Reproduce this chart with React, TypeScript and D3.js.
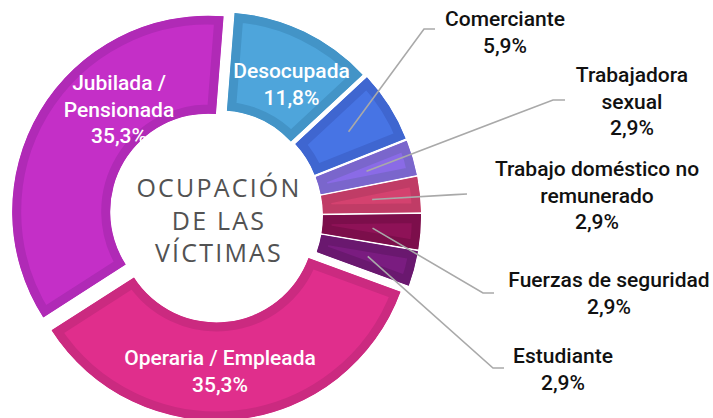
import React from 'react';
import * as d3 from 'd3';

// ---- data ----
const categories = [
  'Desocupada',
  'Comerciante',
  'Trabajadora sexual',
  'Trabajo doméstico no remunerado',
  'Fuerzas de seguridad',
  'Estudiante',
  'Operaria / Empleada',
  'Jubilada / Pensionada',
];
const values = [11.8, 5.9, 2.9, 2.9, 2.9, 2.9, 35.3, 35.3];
const percentLabels = ['11,8%', '5,9%', '2,9%', '2,9%', '2,9%', '2,9%', '35,3%', '35,3%'];
const labelLines = [
  ['Desocupada'],
  ['Comerciante'],
  ['Trabajadora', 'sexual'],
  ['Trabajo doméstico no', 'remunerado'],
  ['Fuerzas de seguridad'],
  ['Estudiante'],
  ['Operaria / Empleada'],
  ['Jubilada /', 'Pensionada'],
];
const centerTitle = ['OCUPACIÓN', 'DE LAS', 'VÍCTIMAS'];

// ---- styles ----
const fillColors = ['#4ea5db', '#4774e4', '#8a6be6', '#d4426f', '#8e1257', '#7a1c80', '#e02e8c', '#c42fc7'];
const borderColors = ['#4394c7', '#3f66d0', '#7a66cc', '#c03c66', '#7c0e4b', '#6a186f', '#cb2a80', '#b02ab6'];

// ---- layout ----
const W = 713;
const H = 418;
const CX = 215.5;
const CY = 216;
const R_OUT = 196;
const R_IN = 98;
const START = (4.5 * Math.PI) / 180;
const offsets = [8.5, 9.5, 9.5, 9.5, 9.5, 9.5, 8.5, 8.5];
const inside = [true, false, false, false, false, false, true, true];
// label layout: text centre x, first baseline y, leader bend and end
const labelLayout = [
  { x: 291.5, y: 78 },
  { x: 505, y: 26, bend: [424, 29], end: [435, 29] },
  { x: 632, y: 82, bend: [553, 100], end: [565, 100] },
  { x: 597, y: 176, bend: [455, 194.6], end: [467, 194] },
  { x: 609, y: 287, bend: [483, 293], end: [494, 293] },
  { x: 563, y: 363, bend: [493, 368], end: [504, 368] },
  { x: 220, y: 365 },
  { x: 119, y: 90 },
];

export default function App() {
  const pie = d3
    .pie<number>()
    .sort(null)
    .value((d) => d)
    .startAngle(START)
    .endAngle(START + 2 * Math.PI);
  const arcs = pie(values);
  const arcGen = d3.arc<d3.PieArcDatum<number>>().innerRadius(R_IN).outerRadius(R_OUT);

  return (
    <svg width={W} height={H} style={{ position: 'absolute', left: 0, top: 0 }} viewBox={`0 0 ${W} ${H}`}>
      <rect width={W} height={H} fill="#ffffff" />
      <defs>
        {arcs.map((a, i) => (
          <clipPath id={`clip${i}`} key={i}>
            <path d={arcGen(a) || ''} />
          </clipPath>
        ))}
      </defs>
      {arcs.map((a, i) => {
        const mid = (a.startAngle + a.endAngle) / 2;
        const dx = Math.sin(mid) * offsets[i];
        const dy = -Math.cos(mid) * offsets[i];
        return (
          <g key={i} transform={`translate(${CX + dx},${CY + dy})`}>
            <path
              d={arcGen(a) || ''}
              fill={fillColors[i]}
              stroke={borderColors[i]}
              strokeWidth={18}
              strokeLinejoin="miter"
              clipPath={`url(#clip${i})`}
            />
          </g>
        );
      })}
      {/* leader lines */}
      {arcs.map((a, i) => {
        if (inside[i]) return null;
        const mid = (a.startAngle + a.endAngle) / 2;
        const r = 148 + offsets[i];
        const sx = CX + Math.sin(mid) * r;
        const sy = CY - Math.cos(mid) * r;
        const L = labelLayout[i] as any;
        const line = d3.line()([[sx, sy], L.bend, L.end] as [number, number][]);
        return <path key={`l${i}`} d={line || ''} fill="none" stroke="#a9a9a9" strokeWidth={1.6} />;
      })}
      {/* labels */}
      {arcs.map((a, i) => {
        const L = labelLayout[i];
        const lines = [...labelLines[i], percentLabels[i]];
        return (
          <text
            key={`t${i}`}
            x={L.x}
            y={L.y}
            textAnchor="middle"
            fontFamily="Roboto, 'Noto Sans', sans-serif"
            fontWeight={500}
            fontSize={21}
            fill={inside[i] ? '#ffffff' : '#111111'}
          >
            {lines.map((s, k) => (
              <tspan key={k} x={L.x} dy={k === 0 ? 0 : 26.5}>
                {s}
              </tspan>
            ))}
          </text>
        );
      })}
      <text
        x={219}
        y={197}
        textAnchor="middle"
        fontFamily="'Open Sans', 'Noto Sans', sans-serif"
        fontWeight={500}
        fontSize={25}
        letterSpacing={2.2}
        fill="#525252"
      >
        {centerTitle.map((s, k) => (
          <tspan key={k} x={219} dy={k === 0 ? 0 : 32.5}>
            {s}
          </tspan>
        ))}
      </text>
    </svg>
  );
}
